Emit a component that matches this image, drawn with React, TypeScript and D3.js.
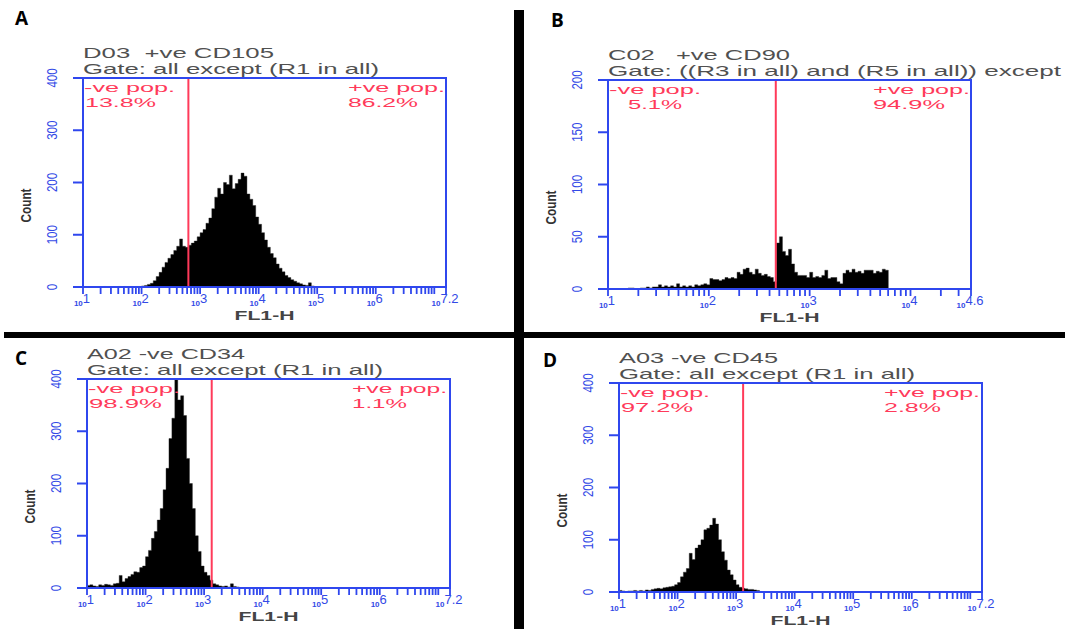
import React from 'react';
import * as d3 from 'd3';

// ─── Datos: histogramas (conteos por bin en escala log10 de FL1-H) ───────────
const BIN = 0.05;

// A: D03 +ve CD105
const cd105Start = 1.35;
const cd105Counts = [
  1, 0, 0, 0, 0, 1, 0, 1, 0, 1, 0, 1, 1,
  2, 3, 5, 7, 12, 20, 28, 38, 47, 55, 62, 70, 78, 92, 78, 76, 80, 84, 88, 96,
  104, 110, 122, 132, 150, 172, 189, 178, 200, 196, 214, 188, 198, 206, 218, 212,
  178, 168, 156, 134, 120, 104, 90, 76, 64, 56, 44, 36, 29, 22, 18, 14, 11, 8, 6,
  4, 3, 8, 2,
];

// B: C02 +ve CD90 (bins más finos)
const cd90Start = 1.2;
const cd90Bin = 0.03;
const cd90Counts = [
  1, 1, 0, 0, 1, 1, 2, 1, 2, 2, 4, 2, 3, 2, 3, 2, 5, 2, 3, 2, 3, 2, 4, 3, 4, 5, 4,
  10, 9, 9, 8, 9, 11, 10, 11, 10, 16, 14, 19, 20, 16, 14, 19, 15, 13, 14, 12, 11, 7,
  44, 50, 36, 32, 38, 24, 16, 13, 13, 13, 11, 16, 11, 12, 11, 13, 18, 10, 11, 11, 7,
  5, 15, 18, 16, 19, 16, 17, 15, 18, 18, 18, 15, 17, 16, 19, 18,
];

// C: A02 -ve CD34
const cd34Start = 1.0;
const cd34Counts = [
  5, 6, 4, 3, 6, 5, 7, 6, 5, 8, 9, 24, 12, 18, 22, 26, 31, 30, 39, 42,
  60, 72, 95, 108, 130, 152, 188, 229, 286, 325, 420, 360, 368, 330, 248, 200,
  152, 100, 70, 42, 30, 24, 15, 8, 6, 4, 3, 4, 2, 8, 3, 2,
];

// D: A03 -ve CD45
const cd45Start = 1.0;
const cd45Counts = [
  3, 2, 1, 2, 2, 3, 2, 3, 2, 4, 3, 5, 6, 7, 6, 8, 9, 10, 11, 14,
  18, 29, 38, 45, 74, 62, 84, 90, 100, 119, 122, 128, 141, 130, 100, 77,
  61, 42, 33, 23, 14, 9, 7, 6, 5, 5, 4, 3, 1,
];

// Textos y valores de cada panel
const panelLetters = ['A', 'B', 'C', 'D'];
const sampleTitles = ['D03  +ve CD105', 'C02   +ve CD90', 'A02 -ve CD34', 'A03 -ve CD45'];
const gateTitles = [
  'Gate: all except (R1 in all)',
  'Gate: ((R3 in all) and (R5 in all)) except',
  'Gate: all except (R1 in all)',
  'Gate: all except (R1 in all)',
];
const negPercents = ['13.8%', '5.1%', '98.9%', '97.2%'];
const posPercents = ['86.2%', '94.9%', '1.1%', '2.8%'];
const gateCuts = [2.8, 2.664, 3.13, 3.12];
const xMaxes = [7.2, 4.6, 7.2, 7.2];
const yMaxes = [400, 200, 400, 400];
const yTicksAll = [[0, 100, 200, 300, 400], [0, 50, 100, 150, 200], [0, 100, 200, 300, 400], [0, 100, 200, 300, 400]];
const xTickExps = [
  ['1', '2', '3', '4', '5', '6', '7.2'],
  ['1', '2', '3', '4', '4.6'],
  ['1', '2', '3', '4', '5', '6', '7.2'],
  ['1', '2', '3', '4', '5', '6', '7.2'],
];
const histStarts = [cd105Start, cd90Start, cd34Start, cd45Start];
const histBins = [BIN, cd90Bin, BIN, BIN];
const histCounts = [cd105Counts, cd90Counts, cd34Counts, cd45Counts];

// ─── Layout (posiciones y medidas) ──────────────────────────────────────────
const PW = 363;
const PH = 209;
const layout = [
  { left: 83, top: 78, letterX: 15, letterY: 25, t1: 191, t2: 296, n1: 91, n2: 71, n2x: 2, p1: 97, p2: 70 },
  { left: 608, top: 80, letterX: 551, letterY: 27, t1: 182, t2: 453, n1: 92, n2: 54, n2x: 20, p1: 97, p2: 72 },
  { left: 87, top: 379, letterX: 15, letterY: 365, t1: 158, t2: 296, n1: 92, n2: 73, n2x: 2, p1: 95, p2: 55 },
  { left: 619, top: 383, letterX: 543, letterY: 367, t1: 159, t2: 296, n1: 90, n2: 72, n2x: 2, p1: 96, p2: 57 },
];

const BLUE = '#2f47ee';
const BLUE_TXT = '#3349e6';
const RED = '#ff3a5a';
const GRAY = '#505050';
const FONT = '"Liberation Sans", Arial, sans-serif';

function Panel({ i }) {
  const L = layout[i];
  const xMax = xMaxes[i];
  const yMax = yMaxes[i];
  const x = d3.scaleLinear().domain([1, xMax]).range([L.left, L.left + PW]);
  const y = d3.scaleLinear().domain([0, yMax]).range([L.top + PH, L.top]);
  const base = y(0);

  const counts = histCounts[i];
  const pts = counts.map((c, k) => [histStarts[i] + k * histBins[i], Math.min(c, yMax)]);
  pts.push([histStarts[i] + counts.length * histBins[i], 0]);
  const area = d3.area()
    .curve(d3.curveStepAfter)
    .x(d => x(d[0]))
    .y0(base)
    .y1(d => y(d[1]));

  // ticks menores log (1..9 por década)
  const minor = [];
  for (let d = 1; d <= Math.floor(xMax); d++) {
    for (let k = 1; k <= 9; k++) {
      const v = d + Math.log10(k);
      if (v <= xMax + 1e-9) minor.push(v);
    }
  }
  minor.push(xMax);

  const cx = L.left + PW / 2;
  const cy = L.top + PH / 2;
  const clipId = `clip-${i}`;

  return (
    <g>
      <defs>
        <clipPath id={clipId}>
          <rect x={L.left} y={L.top} width={PW} height={PH} />
        </clipPath>
      </defs>

      {/* letra del panel */}
      <text x={L.letterX} y={L.letterY} fontFamily='"Open Sans", "DejaVu Sans", sans-serif' fontWeight="bold" fontSize={19} fill="#000">
        {panelLetters[i]}
      </text>

      {/* títulos */}
      <text x={L.left} y={L.top - 20} fontFamily={FONT} fontSize={15} fill={GRAY}
        textLength={L.t1} lengthAdjust="spacingAndGlyphs" style={{ whiteSpace: 'pre' }}>
        {sampleTitles[i]}
      </text>
      <text x={L.left} y={L.top - 4} fontFamily={FONT} fontSize={15} fill={GRAY}
        textLength={L.t2} lengthAdjust="spacingAndGlyphs">
        {gateTitles[i]}
      </text>

      {/* histograma */}
      <path d={area(pts)} fill="#000" stroke="#222" strokeWidth={0.4} clipPath={`url(#${clipId})`} />

      {/* línea de corte */}
      <line x1={x(gateCuts[i])} x2={x(gateCuts[i])} y1={L.top} y2={base} stroke={RED} strokeWidth={2} />

      {/* caja */}
      <rect x={L.left} y={L.top} width={PW} height={PH} fill="none" stroke={BLUE} strokeWidth={2} />

      {/* eje Y */}
      {yTicksAll[i].map(t => (
        <g key={t}>
          <line x1={L.left - 10} x2={L.left} y1={y(t)} y2={y(t)} stroke={BLUE} strokeWidth={2} />
          <text transform={`translate(${L.left - 31},${y(t)}) rotate(-90)`} textAnchor="middle" dy="0.36em"
            fontFamily={FONT} fontSize={14} fill={BLUE_TXT}
            textLength={String(t).length * 6.4} lengthAdjust="spacingAndGlyphs">
            {t}
          </text>
        </g>
      ))}
      <text transform={`translate(${L.left - 57},${cy + 23}) rotate(-90)`} textAnchor="middle" dy="0.36em"
        fontFamily={FONT} fontWeight="bold" fontSize={14} fill="#333" textLength={34} lengthAdjust="spacingAndGlyphs">
        Count
      </text>

      {/* eje X */}
      {minor.map((v, k) => (
        <line key={k} x1={x(v)} x2={x(v)} y1={base} y2={base + 7} stroke={BLUE} strokeWidth={1.8} />
      ))}
      {xTickExps[i].map(e => (
        <text key={e} x={x(+e) - 1} y={base + 19} textAnchor="middle" fontFamily={FONT} fontWeight="bold" fill={BLUE_TXT}>
          <tspan fontSize={8}>10</tspan>
          <tspan fontSize={13} dy={-3} fontWeight="normal">{e}</tspan>
        </text>
      ))}
      <text x={cx} y={base + 33} textAnchor="middle" fontFamily={FONT} fontWeight="bold" fontSize={12} fill="#444"
        textLength={60} lengthAdjust="spacingAndGlyphs">
        FL1-H
      </text>

      {/* porcentajes */}
      <text x={L.left + 1} y={L.top + 14} fontFamily={FONT} fontSize={13} fill={RED} textLength={L.n1} lengthAdjust="spacingAndGlyphs">-ve pop.</text>
      <text x={L.left + L.n2x} y={L.top + 29} fontFamily={FONT} fontSize={13} fill={RED} textLength={L.n2} lengthAdjust="spacingAndGlyphs">{negPercents[i]}</text>
      <text x={L.left + 265} y={L.top + 14} fontFamily={FONT} fontSize={13} fill={RED} textLength={L.p1} lengthAdjust="spacingAndGlyphs">+ve pop.</text>
      <text x={L.left + 265} y={L.top + 29} fontFamily={FONT} fontSize={13} fill={RED} textLength={L.p2} lengthAdjust="spacingAndGlyphs">{posPercents[i]}</text>
    </g>
  );
}

export default function App() {
  return (
    <svg width={1065} height={629} style={{ position: 'absolute', left: 0, top: 0, background: '#fff' }}>
      <rect width={1065} height={629} fill="#fff" />
      {[0, 1, 2, 3].map(i => <Panel key={i} i={i} />)}
      {/* divisores */}
      <rect x={514} y={10} width={10} height={619} fill="#000" />
      <rect x={4} y={332} width={1061} height={6} fill="#000" />
    </svg>
  );
}
